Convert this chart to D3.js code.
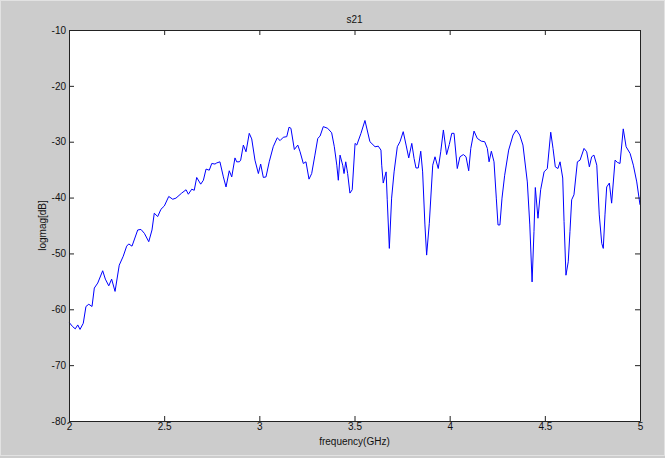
<!DOCTYPE html>
<html>
<head>
<meta charset="utf-8">
<script src="https://d3js.org/d3.v7.min.js"></script>
<style>
  body { margin: 0; background: #cccccc; }
  svg { display: block; }
  text { font-family: "Liberation Sans", Arial, sans-serif; font-size: 10px; fill: #111; }
</style>
</head>
<body>
<svg width="665" height="458"></svg>
<script>
// s21 log magnitude vs frequency
var freq = [2.002, 2.019, 2.033, 2.046, 2.058, 2.075, 2.089, 2.104, 2.121, 2.133,
  2.151, 2.177, 2.191, 2.209, 2.224, 2.242, 2.264, 2.285, 2.303, 2.314,
  2.331, 2.361, 2.378, 2.396, 2.419, 2.436, 2.448, 2.466, 2.483, 2.501,
  2.524, 2.545, 2.562, 2.592, 2.615, 2.627, 2.645, 2.658, 2.671, 2.692,
  2.706, 2.720, 2.737, 2.750, 2.767, 2.776, 2.793, 2.811, 2.825, 2.842,
  2.855, 2.872, 2.881, 2.895, 2.902, 2.916, 2.930, 2.947, 2.960, 2.977,
  2.995, 3.007, 3.021, 3.035, 3.052, 3.073, 3.094, 3.109, 3.126, 3.144,
  3.156, 3.166, 3.184, 3.202, 3.214, 3.231, 3.245, 3.261, 3.275, 3.292,
  3.307, 3.319, 3.336, 3.359, 3.380, 3.394, 3.407, 3.415, 3.424, 3.438,
  3.445, 3.454, 3.464, 3.476, 3.488, 3.503, 3.512, 3.534, 3.555, 3.581,
  3.608, 3.625, 3.639, 3.643, 3.651, 3.666, 3.672, 3.683, 3.695, 3.708,
  3.725, 3.739, 3.756, 3.771, 3.785, 3.801, 3.813, 3.823, 3.835, 3.848,
  3.858, 3.870, 3.879, 3.893, 3.911, 3.923, 3.940, 3.953, 3.967, 3.984,
  3.998, 4.011, 4.023, 4.040, 4.054, 4.072, 4.086, 4.100, 4.111, 4.128,
  4.145, 4.166, 4.184, 4.198, 4.207, 4.219, 4.233, 4.245, 4.254, 4.264,
  4.275, 4.289, 4.310, 4.333, 4.350, 4.368, 4.385, 4.408, 4.421, 4.433,
  4.443, 4.450, 4.464, 4.478, 4.496, 4.513, 4.531, 4.543, 4.555, 4.569,
  4.580, 4.594, 4.601, 4.611, 4.623, 4.632, 4.641, 4.653, 4.671, 4.685,
  4.706, 4.720, 4.734, 4.746, 4.758, 4.773, 4.786, 4.799, 4.807, 4.816,
  4.825, 4.839, 4.851, 4.869, 4.881, 4.895, 4.912, 4.927, 4.948, 4.965,
  4.983, 5.000];

var logmag = [-62.4, -63.1, -63.5, -62.8, -63.6, -62.5, -59.5, -59.1, -59.5, -56.2,
  -55.3, -53.1, -54.6, -55.8, -54.6, -56.8, -52.1, -50.5, -48.7, -48.3,
  -48.7, -45.8, -45.7, -46.4, -47.9, -45.8, -42.8, -43.4, -42.1, -41.5,
  -39.8, -40.3, -40.1, -39.2, -38.6, -39.4, -38.5, -38.7, -36.4, -37.6,
  -36.9, -34.9, -35.1, -33.9, -34.0, -33.8, -33.6, -36.3, -38.1, -35.2,
  -36.3, -32.9, -33.6, -33.6, -33.3, -30.6, -31.8, -28.5, -29.5, -33.3,
  -35.7, -34.0, -36.4, -36.3, -33.6, -30.9, -29.3, -29.8, -29.2, -29.1,
  -27.4, -27.6, -31.4, -30.6, -31.8, -33.9, -33.6, -36.7, -35.7, -32.4,
  -29.4, -29.0, -27.3, -27.6, -28.4, -30.9, -34.2, -36.9, -32.4, -34.2,
  -35.7, -33.6, -35.7, -39.2, -38.6, -30.3, -30.6, -28.5, -26.2, -30.0,
  -30.9, -30.8, -31.5, -34.2, -37.4, -35.4, -40.4, -49.1, -40.1, -35.4,
  -30.9, -30.0, -28.2, -30.6, -32.9, -30.3, -33.0, -34.7, -34.7, -31.7,
  -35.4, -44.9, -50.3, -44.6, -34.2, -32.7, -34.8, -31.8, -27.9, -32.3,
  -30.5, -28.5, -28.5, -34.8, -32.7, -32.3, -32.7, -35.2, -31.2, -28.1,
  -29.4, -29.9, -30.0, -31.2, -33.6, -31.7, -33.6, -40.1, -44.9, -44.9,
  -40.1, -36.0, -31.5, -28.8, -27.9, -28.8, -30.6, -37.2, -44.9, -55.1,
  -46.1, -38.2, -43.7, -38.6, -35.4, -34.8, -28.3, -31.2, -34.5, -34.8,
  -33.6, -36.5, -44.3, -53.9, -51.5, -46.1, -40.4, -39.5, -33.6, -33.3,
  -31.2, -31.8, -34.5, -32.7, -32.4, -34.2, -43.1, -48.2, -49.1, -43.1,
  -38.1, -37.4, -41.0, -33.3, -33.7, -33.9, -27.7, -30.9, -32.1, -34.2,
  -37.2, -41.3];

var xTicks = [2, 2.5, 3, 3.5, 4, 4.5, 5];
var yTicks = [-80, -70, -60, -50, -40, -30, -20, -10];

var svg = d3.select("svg");
var plotL = 69, plotT = 30, plotR = 640, plotB = 421;

// window edge highlights
svg.append("rect").attr("x", 0.5).attr("y", 0.5).attr("width", 664).attr("height", 455)
    .attr("fill", "none").attr("stroke", "#e2e2e2");

svg.append("rect")
    .attr("x", plotL).attr("y", plotT)
    .attr("width", plotR - plotL).attr("height", plotB - plotT)
    .attr("fill", "#fff");

var x = d3.scaleLinear().domain([2, 5]).range([plotL, plotR]);
var y = d3.scaleLinear().domain([-80, -10]).range([plotB, plotT]);

// plain hyphen minus, like the original
var fmt = function(d) { return String(d); };

function styleAxis(g) {
  g.select(".domain").attr("stroke", "#222");
  g.selectAll(".tick line").attr("stroke", "#222");
  g.selectAll(".tick text").attr("fill", "#111")
      .attr("font-family", "Liberation Sans, Arial, sans-serif").attr("font-size", 10);
}

var pts = freq.map(function(f, i) { return [f, logmag[i]]; });

svg.append("path")
    .datum(pts)
    .attr("fill", "none")
    .attr("stroke", "#0000ff")
    .attr("stroke-width", 1)
    .attr("d", d3.line().x(function(d) { return x(d[0]); }).y(function(d) { return y(d[1]); }));

svg.append("g").attr("transform", "translate(0," + plotB + ")")
    .call(d3.axisBottom(x).tickValues(xTicks).tickFormat(fmt).tickSizeInner(-5).tickSizeOuter(0).tickPadding(2))
    .call(styleAxis);
svg.append("g").attr("transform", "translate(0," + plotT + ")")
    .call(d3.axisTop(x).tickValues(xTicks).tickFormat("").tickSizeInner(-5).tickSizeOuter(0))
    .call(styleAxis);
svg.append("g").attr("transform", "translate(" + plotL + ",0)")
    .call(d3.axisLeft(y).tickValues(yTicks).tickFormat(fmt).tickSizeInner(-5).tickSizeOuter(0).tickPadding(3))
    .call(styleAxis);
svg.append("g").attr("transform", "translate(" + plotR + ",0)")
    .call(d3.axisRight(y).tickValues(yTicks).tickFormat("").tickSizeInner(-5).tickSizeOuter(0))
    .call(styleAxis);

svg.append("text")
    .attr("x", (plotL + plotR) / 2).attr("y", 23)
    .attr("text-anchor", "middle")
    .text("s21");

svg.append("text")
    .attr("x", (plotL + plotR) / 2).attr("y", 445)
    .attr("text-anchor", "middle")
    .text("frequency(GHz)");

svg.append("text")
    .attr("transform", "translate(46," + (plotT + plotB) / 2 + ") rotate(-90)")
    .attr("text-anchor", "middle")
    .text("logmag[dB]");
</script>
</body>
</html>
